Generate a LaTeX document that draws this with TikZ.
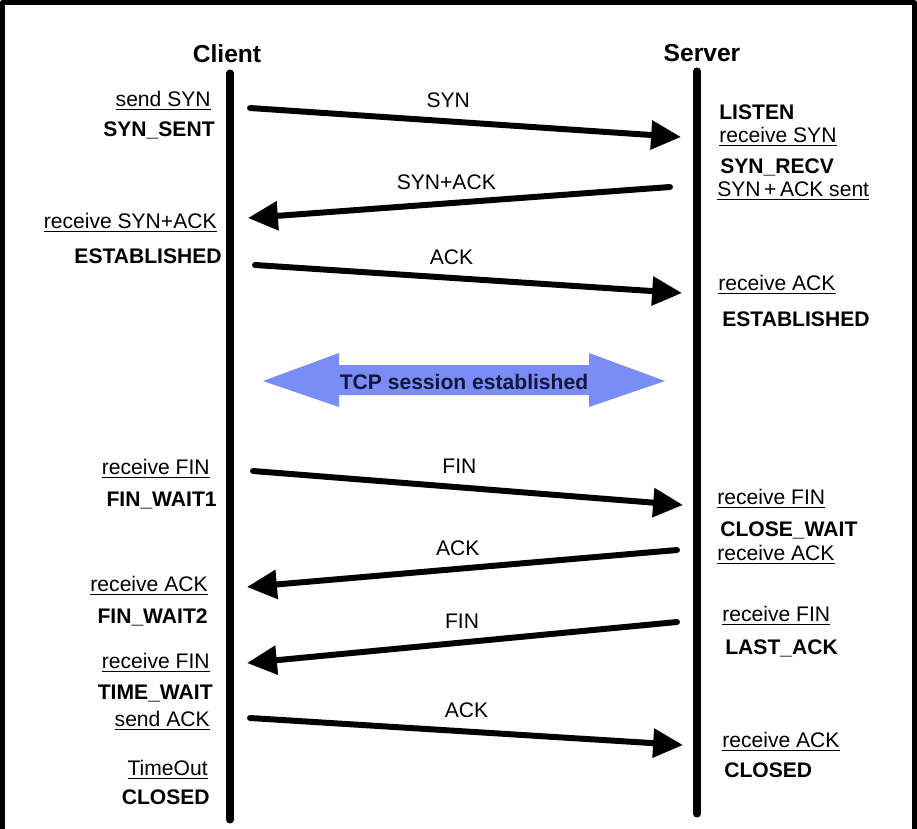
\documentclass[tikz,border=0pt]{standalone}
\usepackage{fontspec}
\setmainfont{Liberation Sans}
\usetikzlibrary{arrows.meta}
\definecolor{sessblue}{RGB}{122,140,245}
\definecolor{sessink}{RGB}{22,22,60}

\begin{document}
\begin{tikzpicture}[x=0.02cm, y=-0.02cm, font=\fontsize{12}{14}\selectfont, line join=round, line cap=round,
	msg/.style={line width=3.4pt, -{Triangle[length=17pt,width=16pt]}},
	life/.style={line width=4pt},
	evl/.style={inner sep=0pt, anchor=east},
	evr/.style={inner sep=0pt, anchor=west},
	state/.style={font=\fontsize{12}{14}\selectfont\bfseries},
	head/.style={font=\fontsize{14}{16}\selectfont\bfseries},
	lbl/.style={above=6pt, inner sep=0pt}]
	\useasboundingbox (0,0) rectangle (917,829);
	% frame, open at the bottom
	\draw[line width=2.8pt, line cap=butt] (2.5,840) -- (2.5,2.5) -- (914.5,2.5) -- (914.5,840);
	% the two sides
	\node[head] (client) at (227,54) {Client};
	\node[head] (server) at (702,53) {Server};
	\coordinate (clTop) at (230,73);
	\coordinate (clBot) at (230,820);
	\coordinate (svTop) at (697,71);
	\coordinate (svBot) at (697,814);
	\draw[life] (clTop) -- (clBot);
	\draw[life] (svTop) -- (svBot);
	% three-way handshake
	\coordinate (c1) at (250,108); \coordinate (s1) at (681,137);
	\coordinate (s2) at (670,187); \coordinate (c2) at (248,218);
	\coordinate (c3) at (255,265); \coordinate (s3) at (682,293);
	\draw[msg] (c1) -- node[lbl, pos=.46]{SYN} (s1);
	\draw[msg] (s2) -- node[lbl, pos=.53]{SYN+ACK} (c2);
	\draw[msg] (c3) -- node[lbl, pos=.46]{ACK} (s3);
	\node[evl] (cSendSyn) at (211,101) {\underline{send SYN}};
	\node[evl, state] (cSynSent) at (215,130) {SYN\_SENT};
	\node[evl] (cRecvSynAck) at (217,223) {\underline{receive SYN+ACK}};
	\node[evl, state] (cEstab) at (222,256) {ESTABLISHED};
	\node[evr, state] (sListen) at (719,112) {LISTEN};
	\node[evr] (sRecvSyn) at (719,137) {\underline{receive SYN}};
	\node[evr, state] (sSynRecv) at (720,167) {SYN\_RECV};
	\node[evr] (sSynAckSent) at (717,191) {\underline{SYN\kern2pt+\kern2pt ACK sent}};
	\node[evr] (sRecvAck) at (718,285) {\underline{receive ACK}};
	\node[evr, state] (sEstab) at (722,319) {ESTABLISHED};
	% session
	\fill[sessblue] (263,381) -- (339,353) -- (339,365) -- (589,365) -- (589,353) -- (665,381)
		-- (589,407) -- (589,395) -- (339,395) -- (339,407) -- cycle;
	\node[state, text=sessink] (session) at (464,382) {TCP session established};
	% four-way close
	\coordinate (c4) at (253,471); \coordinate (s4) at (683,505);
	\coordinate (s5) at (677,550); \coordinate (c5) at (247,587);
	\coordinate (s6) at (677,622); \coordinate (c6) at (247,663);
	\coordinate (c7) at (250,718); \coordinate (s7) at (683,745);
	\draw[msg] (c4) -- node[lbl, pos=.48]{FIN} (s4);
	\draw[msg] (s5) -- node[lbl, pos=.51]{ACK} (c5);
	\draw[msg] (s6) -- node[lbl, pos=.50]{FIN} (c6);
	\draw[msg] (c7) -- node[lbl, pos=.50]{ACK} (s7);
	\node[evl] (cRecvFin) at (210,469) {\underline{receive FIN}};
	\node[evl, state] (cFinWait1) at (217,501) {FIN\_WAIT1};
	\node[evl] (cRecvAck) at (208,586) {\underline{receive ACK}};
	\node[evl, state] (cFinWait2) at (208,617) {FIN\_WAIT2};
	\node[evl] (cRecvFin2) at (210,663) {\underline{receive FIN}};
	\node[evl, state] (cTimeWait) at (213,694) {TIME\_WAIT};
	\node[evl] (cSendAck) at (210,721) {\underline{send ACK}};
	\node[evl] (cTimeOut) at (208,770) {\underline{TimeOut}};
	\node[evl, state] (cClosed) at (210,797) {CLOSED};
	\node[evr] (sRecvFin) at (717,499) {\underline{receive FIN}};
	\node[evr, state] (sCloseWait) at (720,530) {CLOSE\_WAIT};
	\node[evr] (sRecvAck2) at (717,555) {\underline{receive ACK}};
	\node[evr] (sRecvFin2) at (722,616) {\underline{receive FIN}};
	\node[evr, state] (sLastAck) at (725,648) {LAST\_ACK};
	\node[evr] (sRecvAck3) at (722,742) {\underline{receive ACK}};
	\node[evr, state] (sClosed) at (724,770) {CLOSED};
\end{tikzpicture}
\end{document}
